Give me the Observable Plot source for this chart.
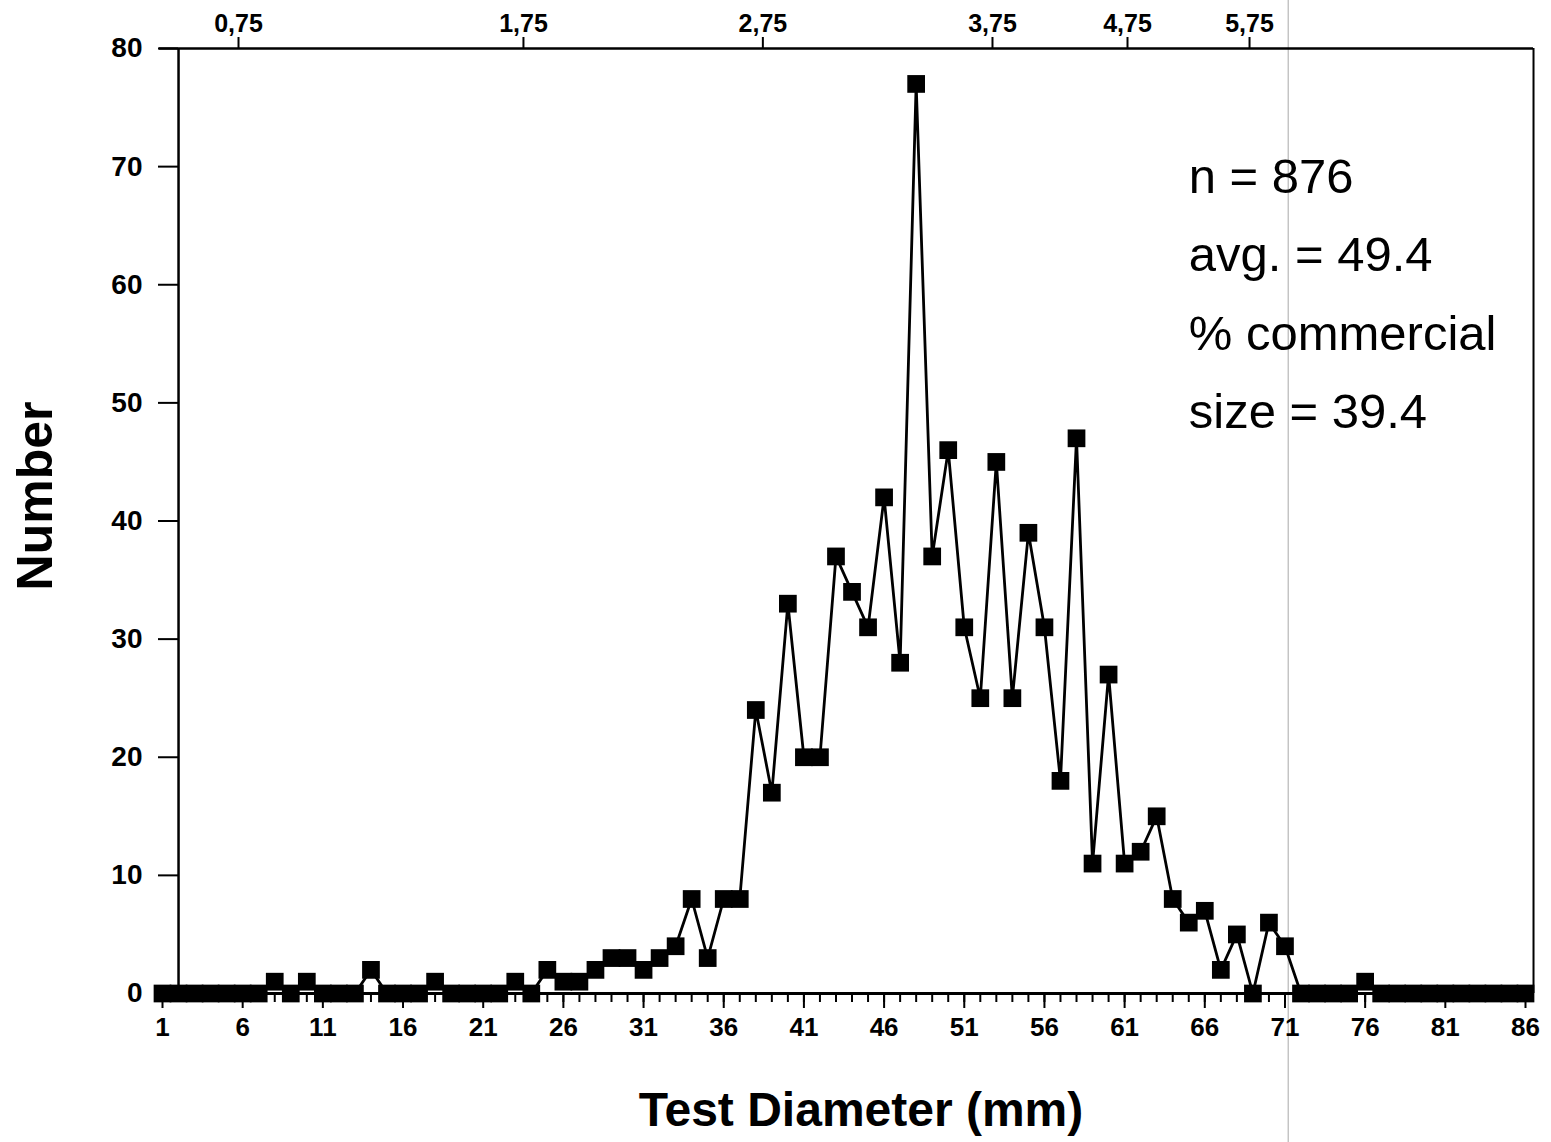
<!DOCTYPE html>
<html>
<head>
<meta charset="utf-8">
<script src="https://cdn.jsdelivr.net/npm/d3@7"></script>
<script src="https://cdn.jsdelivr.net/npm/@observablehq/plot@0.6"></script>
<style>
  html, body { margin: 0; padding: 0; background: #fff; }
  #chart svg { display: block; }
</style>
</head>
<body>
<div id="chart"></div>
<script>
// ---- Data ----
const diameters = [1,2,3,4,5,6,7,8,9,10,11,12,13,14,15,16,17,18,19,20,21,22,23,24,25,26,27,28,29,30,
  31,32,33,34,35,36,37,38,39,40,41,42,43,44,45,46,47,48,49,50,51,52,53,54,55,56,57,58,59,60,
  61,62,63,64,65,66,67,68,69,70,71,72,73,74,75,76,77,78,79,80,81,82,83,84,85,86];
const counts = [0,0,0,0,0,0,0,1,0,1,0,0,0,2,0,0,0,1,0,0,0,0,1,0,2,1,1,2,3,3,
  2,3,4,8,3,8,8,24,17,33,20,20,37,34,31,42,28,77,37,46,31,25,45,25,39,31,18,47,11,27,
  11,12,15,8,6,7,2,5,0,6,4,0,0,0,0,1,0,0,0,0,0,0,0,0,0,0];

// Bottom axis ticks (mm classes)
const xMajorTicks = [1,6,11,16,21,26,31,36,41,46,51,56,61,66,71,76,81,86];
// Top axis: labels and where they fall on the bottom scale
const topTickLabels = ["0,75","1,75","2,75","3,75","4,75","5,75"];
const topTickPositions = [5.74, 23.51, 38.44, 52.76, 61.18, 68.79];
const yTicks = [0,10,20,30,40,50,60,70,80];

const statsLines = ["n = 876", "avg. = 49.4", "% commercial", "size = 39.4"];
const xTitle = "Test Diameter (mm)";
const yTitle = "Number";

// Frame / annotation placement in data units
const frameLeftX = 2;
const frameRightX = 86.5;
const axisLineStartX = 0.55;
const topLineStartX = 0.8;
const scanLineX = 71.2;
const statsX = 65;
const statsY = 72.5;

const data = diameters.map((d, i) => ({diameter: d, count: counts[i]}));
const topLabelMap = new Map(topTickPositions.map((p, i) => [p, topTickLabels[i]]));
const minorTicks = diameters;

const FONT = "'Liberation Sans', Arial, Helvetica, sans-serif";
const NARROW = "'Liberation Sans Narrow', 'Arial Narrow', 'Liberation Sans', sans-serif";

const chart = Plot.plot({
  width: 1551,
  height: 1142,
  marginLeft: 162,
  marginRight: 26,
  marginTop: 48,
  marginBottom: 149,
  style: {fontFamily: FONT, color: "#000", background: "#fff", overflow: "visible"},
  x: {domain: [1, 86], axis: null},
  y: {domain: [0, 80], axis: null},
  marks: [
    // scan line artifact
    Plot.ruleX([scanLineX], {stroke: "#a8a8a8", strokeWidth: 1, insetTop: -48, insetBottom: -149}),
    // frame
    Plot.ruleX([frameLeftX], {y1: 0, y2: 80, stroke: "#000", strokeWidth: 2.5}),
    Plot.ruleX([frameRightX], {y1: 0, y2: 80, stroke: "#000", strokeWidth: 2}),
    Plot.ruleY([80], {x1: topLineStartX, x2: frameRightX, stroke: "#000", strokeWidth: 2.5}),
    Plot.ruleY([0], {x1: axisLineStartX, x2: frameRightX, stroke: "#000", strokeWidth: 3}),
    // y axis
    Plot.axisY({ticks: yTicks, tickSize: 20, tickPadding: 16, dx: 16, strokeWidth: 2,
      fontSize: 28, fontWeight: "bold", label: null}),
    // bottom axis: minor + major
    Plot.axisX({ticks: minorTicks, tickSize: 9, tickFormat: () => "", strokeWidth: 2, label: null}),
    Plot.axisX({ticks: xMajorTicks, tickSize: 15, tickPadding: 9, strokeWidth: 2,
      fontSize: 26, fontWeight: "bold", label: null}),
    // top axis
    Plot.axisX({anchor: "top", ticks: topTickPositions, tickFormat: d => topLabelMap.get(d),
      tickSize: 12, tickPadding: 5, strokeWidth: 2, fontSize: 25, fontWeight: "bold",
      fontFamily: NARROW, label: null}),
    // data
    Plot.line(data, {x: "diameter", y: "count", stroke: "#000", strokeWidth: 2.8}),
    Plot.dot(data, {x: "diameter", y: "count", symbol: "square", r: 10, fill: "#000", stroke: "none"}),
    // stats
    Plot.text([statsLines.join("\n")], {x: statsX, y: statsY, textAnchor: "start", lineAnchor: "top",
      fontSize: 49, lineHeight: 1.6, fill: "#000"}),
    // titles
    Plot.text([xTitle], {frameAnchor: "bottom", textAnchor: "middle", lineAnchor: "middle",
      dx: 17, dy: 117, fontSize: 48, fontWeight: "bold", fill: "#000"}),
    Plot.text([yTitle], {frameAnchor: "left", textAnchor: "middle", lineAnchor: "middle",
      dx: -127, dy: -25, rotate: -90, fontSize: 50, fontWeight: "bold", fill: "#000"})
  ]
});
document.getElementById("chart").appendChild(chart);
</script>
</body>
</html>
